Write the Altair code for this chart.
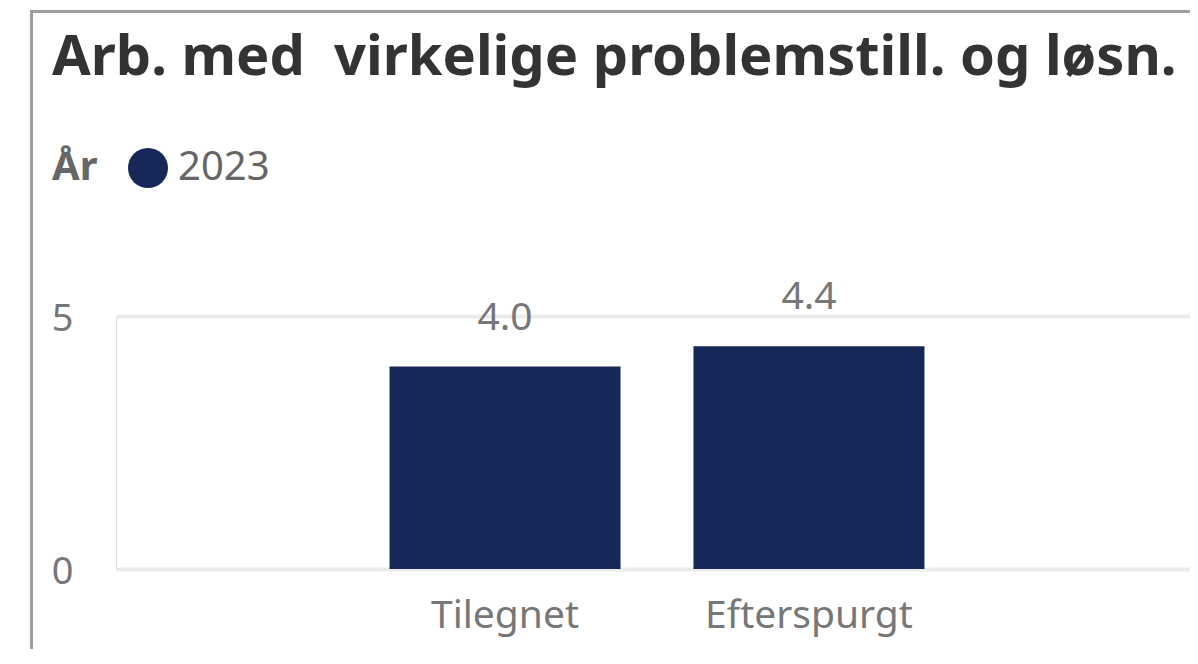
import altair as alt
import pandas as pd

categories = ["Tilegnet", "Efterspurgt"]
values = [4.0, 4.4]
years = ["2023", "2023"]
labels = ["4.0", "4.4"]

df = pd.DataFrame({"Kategori": categories, "Verdi": values, "År": years, "Etikett": labels})

FONT = "Noto Sans"
NAVY = "#172858"
GREY = "#777777"

base = alt.Chart(df).encode(
    x=alt.X(
        "Kategori:N",
        sort=categories,
        scale=alt.Scale(paddingInner=0.24, paddingOuter=0.9, range=[0, 1082]),
        axis=alt.Axis(
            title=None, labelAngle=0, ticks=False, domain=False, grid=False,
            labelFontSize=39, labelColor=GREY, labelFont=FONT,
            labelBaseline="alphabetic", labelPadding=58, labelLimit=0,
        ),
    ),
    y=alt.Y(
        "Verdi:Q",
        scale=alt.Scale(domain=[0, 5]),
        axis=alt.Axis(
            title=None, values=[0, 5], ticks=False, domain=False,
            grid=True, gridColor="#ebebeb", gridWidth=4,
            labelFontSize=38, labelColor=GREY, labelFont=FONT,
            labelBaseline="alphabetic", labelOffset=14, labelPadding=43,
        ),
    ),
)

bars = base.mark_bar(size=231).encode(
    color=alt.Color(
        "År:N",
        scale=alt.Scale(range=[NAVY]),
        legend=alt.Legend(
            orient="none", legendX=-64, legendY=-168,
            direction="horizontal", titleOrient="left",
            title="År", titleFont=FONT, titleFontSize=40, titleFontWeight="bold",
            titleColor="#666666", titlePadding=30, titleBaseline="middle",
            labelFont=FONT, labelFontSize=40, labelColor="#666666", labelOffset=10,
            symbolType="circle", symbolSize=1600, symbolStrokeWidth=0,
            symbolOpacity=1,
        ),
    )
)

text = base.mark_text(
    baseline="alphabetic", dy=-37, fontSize=39, color=GREY, font=FONT
).encode(text="Etikett:N")

# card border drawn as a stroked rectangle (decoration, not data)
frame = alt.Chart(alt.Data(values=[{"f": 1}])).mark_rule(
    stroke="#9e9e9e", strokeWidth=3
).encode(
    x=alt.value(-84.5), x2=alt.value(1300),
    y=alt.value(-304.5), y2=alt.value(-304.5),
)
frame_left = alt.Chart(alt.Data(values=[{"f": 1}])).mark_rule(
    stroke="#9e9e9e", strokeWidth=3
).encode(
    x=alt.value(-84.5), x2=alt.value(-84.5),
    y=alt.value(-306), y2=alt.value(500),
)

chart = alt.layer(frame, frame_left, bars, text).properties(
    width=1074,
    height=253,
    padding={"left": 108, "top": 308, "right": 0, "bottom": 80},
    autosize=alt.AutoSizeParams(type="none"),
    title=alt.TitleParams(
        "Arb. med\u00a0 virkelige problemstill. og løsn.",
        anchor="start", frame="group", dx=-64, dy=122, offset=0,
        baseline="alphabetic",
        fontSize=56, fontWeight="bold", color="#333333", font=FONT,
    ),
).configure_view(strokeWidth=0, stroke=None).configure(background="white")

chart.save("out.html", embed_options={"renderer": "svg", "actions": False})
